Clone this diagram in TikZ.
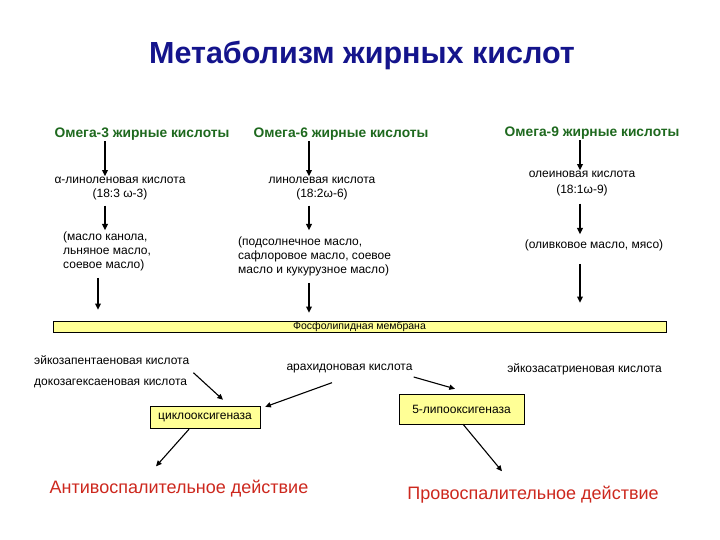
\documentclass[tikz,border=0pt]{standalone}
\usepackage{fontspec}
\setmainfont{Liberation Sans}
\usetikzlibrary{arrows.meta,positioning}
\definecolor{titleblue}{RGB}{20,20,140}
\definecolor{omegagreen}{RGB}{30,105,30}
\definecolor{effectred}{RGB}{205,40,30}
\definecolor{membyellow}{RGB}{255,255,150}

\begin{document}
\begin{tikzpicture}[x=1pt,y=-1pt,
  head/.style={font=\fontsize{13.8}{15}\selectfont\bfseries,text=omegagreen,inner sep=1pt},
  acid/.style={font=\fontsize{12}{14}\selectfont,align=center,inner sep=1pt},
  food/.style={font=\fontsize{12}{14}\selectfont,align=left,inner sep=1pt},
  enzbox/.style={rectangle,draw=black,fill=membyellow,font=\fontsize{12}{13}\selectfont,inner sep=1pt},
  effect/.style={font=\fontsize{18}{20}\selectfont,text=effectred,inner sep=1pt},
  vline/.style={-{Triangle[length=2.2mm,width=2mm]},line width=1.5pt},
  dline/.style={-{Triangle[length=2mm,width=1.8mm]},line width=1.1pt}]
  \useasboundingbox[fill=white] (0,0) rectangle (720,540);

  \node[font=\fontsize{30.5}{34}\selectfont\bfseries,text=titleblue] (title) at (362,55) {Метаболизм жирных кислот};

  \node[head] (o3) at (142,134) {Омега-3 жирные кислоты};
  \node[head] (o6) at (341,134) {Омега-6 жирные кислоты};
  \node[head] (o9) at (592,133) {Омега-9 жирные кислоты};

  \node[acid] (ala) at (120,189) {α-линоленовая кислота\\(18:3 ω-3)};
  \node[acid] (lin) at (322,189) {линолевая кислота\\(18:2ω-6)};
  \node[acid,font=\fontsize{12}{16}\selectfont] (ole) at (582,184) {олеиновая кислота\\(18:1ω-9)};

  \node[food,anchor=west] (oil3) at (62,251) {(масло канола,\\льняное масло,\\соевое масло)};
  \node[food,anchor=west] (oil6) at (237,256) {(подсолнечное масло,\\сафлоровое масло, соевое\\масло и кукурузное масло)};
  \node[acid] (oil9) at (594,245) {(оливковое масло, мясо)};

  \node[rectangle,draw=black,fill=membyellow,minimum width=613pt,minimum height=11pt,inner sep=0pt,font=\fontsize{10.5}{11}\selectfont] (mem) at (359.5,326.5) {Фосфолипидная мембрана};

  \node[acid,anchor=west] (epa) at (33,360) {эйкозапентаеновая кислота};
  \node[acid,anchor=west] (dha) at (33,383) {докозагексаеновая кислота};
  \node[acid] (ara) at (349.5,369) {арахидоновая кислота};
  \node[acid] (eta) at (584.5,369) {эйкозасатриеновая кислота};

  \node[enzbox,minimum width=110pt,minimum height=22pt] (cox) at (205,417) {циклооксигеназа};
  \node[enzbox,minimum width=125pt,minimum height=30pt] (lox) at (461.5,409) {5-липооксигеназа};

  \node[effect] (anti) at (179,489) {Антивоспалительное действие};
  \node[effect] (pro) at (533,495) {Провоспалительное действие};

  % omega -> acid
  \draw[vline] ([xshift=-37pt]o3.south) -- ([xshift=-15pt]ala.north);
  \draw[vline] ([xshift=-32pt]o6.south) -- ([xshift=-13pt]lin.north);
  \draw[vline] ([xshift=-12pt]o9.south) -- ([xshift=-2pt]ole.north);
  % acid -> food
  \draw[vline,shorten <=4pt] ([xshift=-15pt]ala.south) -- ([xshift=-15pt]ala.south |- oil3.north);
  \draw[vline,shorten <=4pt,shorten >=5pt] ([xshift=-13pt]lin.south) -- ([xshift=-13pt]lin.south |- oil6.north);
  \draw[vline,shorten <=6pt,shorten >=4pt] ([xshift=-2pt]ole.south) -- ([xshift=-2pt]ole.south |- oil9.north);
  % food -> membrane
  \draw[vline,shorten <=6pt,shorten >=11pt] ([xshift=36pt]oil3.south west) -- ([xshift=36pt]oil3.south west |- mem.north);
  \draw[vline,shorten <=6pt,shorten >=8pt] ([xshift=72pt]oil6.south west) -- ([xshift=72pt]oil6.south west |- mem.north);
  \draw[vline,shorten <=12pt,shorten >=18pt] ([xshift=-14pt]oil9.south) -- ([xshift=-14pt]oil9.south |- mem.north);
  % acids -> enzymes
  \draw[dline] ([shift={(3,7)}]epa.south east) -- ([shift={(18,-6)}]cox.north);
  \draw[dline] ([shift={(-17.5,8)}]ara.south) -- ([shift={(5,1)}]cox.north east);
  \draw[dline] ([shift={(0,8)}]ara.east) -- ([shift={(-6.5,-5)}]lox.north);
  % enzymes -> effects
  \draw[dline] ([shift={(-16,1)}]cox.south) -- ([shift={(-23,-13)}]anti.north);
  \draw[dline] ([shift={(1.5,0)}]lox.south) -- ([shift={(-31,-14)}]pro.north);
\end{tikzpicture}
\end{document}
